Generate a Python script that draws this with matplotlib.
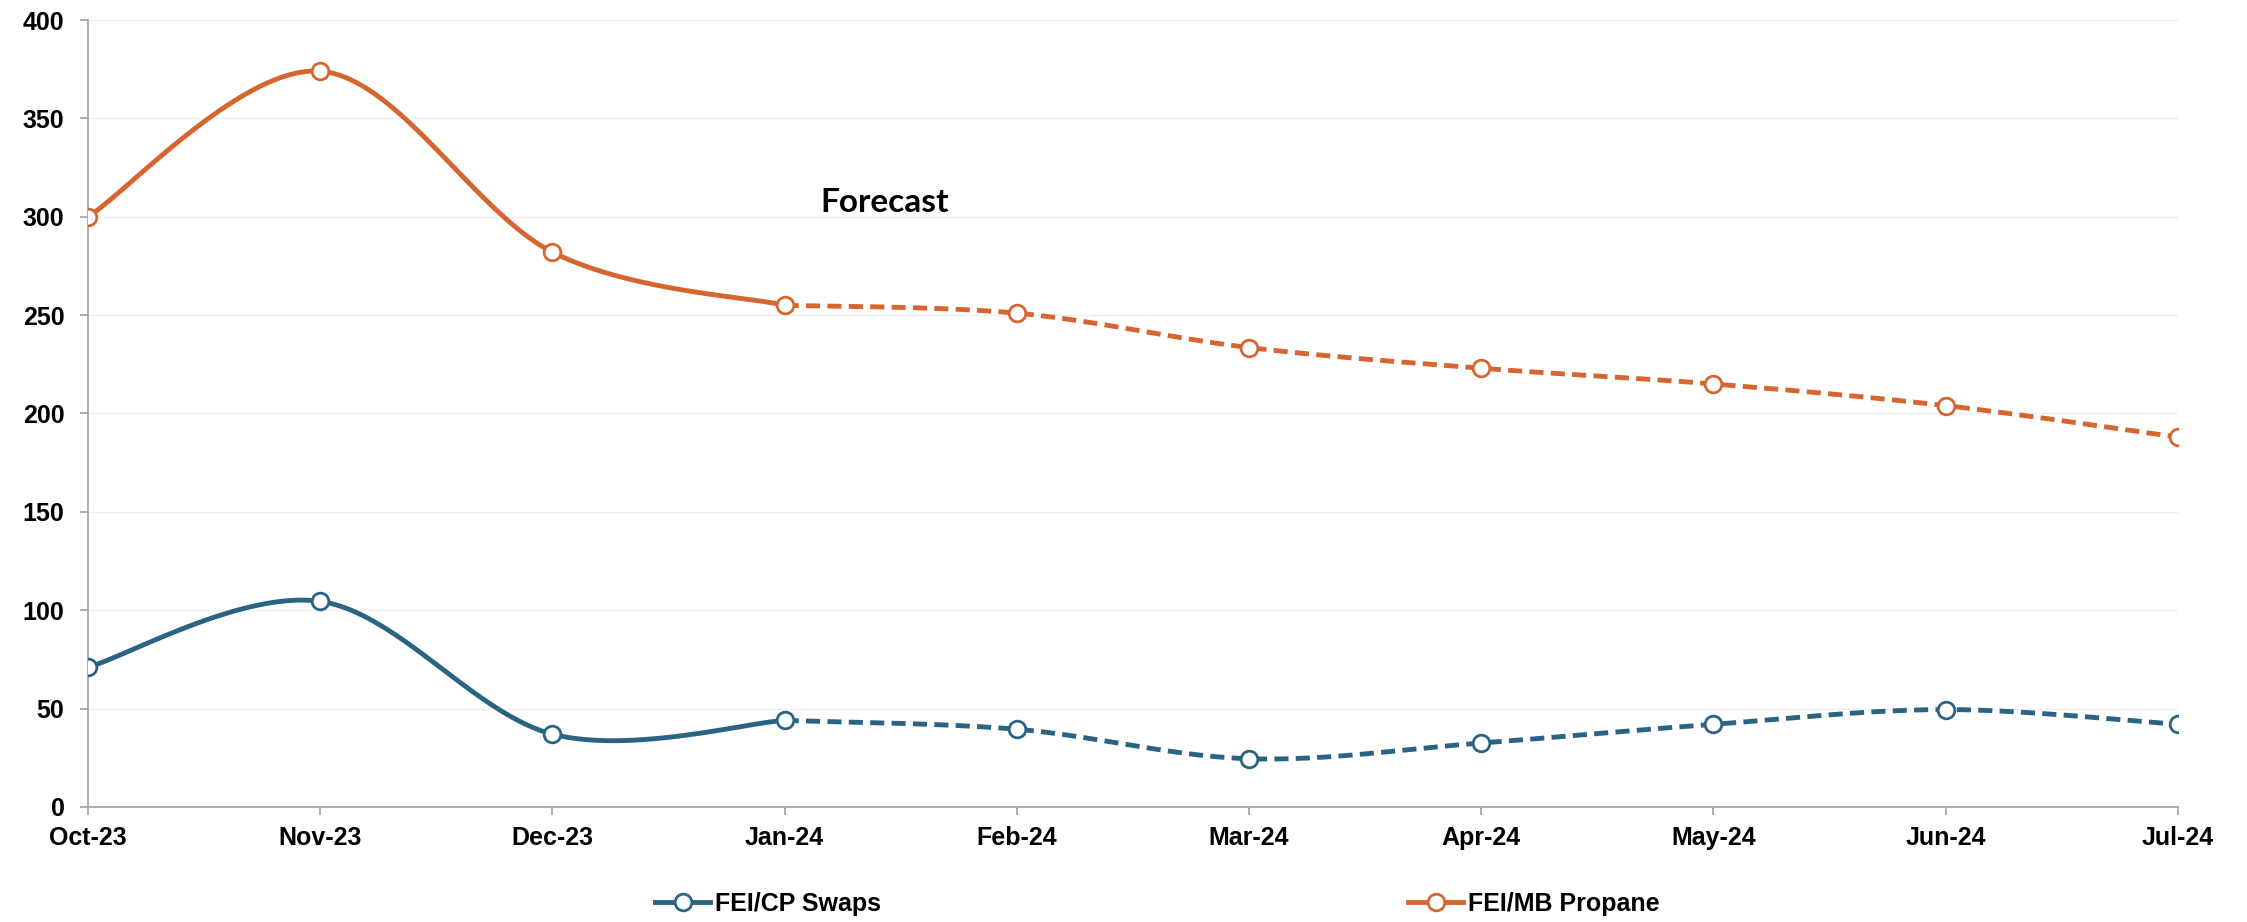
import numpy as np
import matplotlib
matplotlib.use("Agg")
import matplotlib.pyplot as plt
from matplotlib.lines import Line2D

months = ["Oct-23", "Nov-23", "Dec-23", "Jan-24", "Feb-24",
          "Mar-24", "Apr-24", "May-24", "Jun-24", "Jul-24"]
# Spreads: actuals through Jan-24, forecast from Jan-24 onward
cp_swaps = [71, 104.5, 37, 44, 39.5, 24.5, 32.5, 42, 49.5, 42]
mb_propane = [300, 374, 282, 255, 251, 233.5, 223, 215, 204, 188]
actual_end = 3  # index of Jan-24

BLUE = "#2A6482"
ORANGE = "#D6652F"
labels = ["FEI/CP Swaps", "FEI/MB Propane"]


def smooth(xs, ys, n=40):
    """Catmull-Rom style smoothing through every point (Bezier form)."""
    pts = np.column_stack([xs, ys]).astype(float)
    ext = np.vstack([pts[0], pts, pts[-1]])
    out = []
    t = np.linspace(0, 1, n)[:, None]
    for i in range(1, len(ext) - 2):
        p0, p3 = ext[i], ext[i + 1]
        c1 = p0 + (ext[i + 1] - ext[i - 1]) / 6.0
        c2 = p3 - (ext[i + 2] - ext[i]) / 6.0
        seg = ((1 - t) ** 3) * p0 + 3 * ((1 - t) ** 2) * t * c1 \
            + 3 * (1 - t) * t ** 2 * c2 + t ** 3 * p3
        out.append(seg if i == 1 else seg[1:])
    arr = np.vstack(out)
    return arr[:, 0], arr[:, 1]


plt.rcParams["font.family"] = ["Liberation Sans", "DejaVu Sans"]
fig = plt.figure(figsize=(22.47, 9.22), dpi=100)
ax = fig.add_axes([0.0392, 0.1248, 0.9300, 0.8535])

x = np.arange(len(months))
lw = 3.5
ms = 12
mew = 2.0
for series, color in [(cp_swaps, BLUE), (mb_propane, ORANGE)]:
    sx, sy = smooth(x[:actual_end + 1], series[:actual_end + 1])
    ax.plot(sx, sy, color=color, lw=lw, solid_capstyle="round", zorder=3)
    fx, fy = smooth(x[actual_end:], series[actual_end:])
    ax.plot(fx, fy, color=color, lw=lw, linestyle=(0, (2.9, 1.5)),
            dash_capstyle="butt", zorder=3)
    ax.plot(x, series, linestyle="none", marker="o", markersize=ms,
            markerfacecolor="white", markeredgecolor=color,
            markeredgewidth=mew, zorder=4)

ax.set_xlim(0, len(months) - 1)
ax.set_ylim(0, 400)
ax.set_xticks(x)
ax.set_xticklabels(months)
ax.set_yticks(np.arange(0, 401, 50))
ax.grid(axis="y", color="#EFEFEF", lw=1.0, zorder=0)
ax.set_axisbelow(True)

for side in ["top", "right"]:
    ax.spines[side].set_visible(False)
for side in ["left", "bottom"]:
    ax.spines[side].set_color("#A0A0A0")
    ax.spines[side].set_linewidth(1.2)

ax.tick_params(axis="both", colors="#A0A0A0", length=6, width=1.2,
               labelcolor="black", labelsize=18)
ax.tick_params(axis="x", pad=8)
ax.tick_params(axis="y", pad=11)
for lab in ax.get_xticklabels() + ax.get_yticklabels():
    lab.set_fontweight("bold")

ax.text(3.43, 307, "Forecast", ha="center", va="center",
        fontsize=24, fontweight="bold", family=["Lato", "DejaVu Sans"])

# legend entries placed under the axis
for label, color, xpos in [(labels[0], BLUE, 655 / 2247),
                           (labels[1], ORANGE, 1408 / 2247)]:
    h = Line2D([], [], color=color, lw=lw, marker="o", markersize=ms,
               markerfacecolor="white", markeredgecolor=color,
               markeredgewidth=mew)
    fig.legend([h], [label], loc="center left",
               bbox_to_anchor=(xpos, 1 - 904 / 922), frameon=False,
               borderpad=0, borderaxespad=0, handlelength=2.2,
               handletextpad=0.2,
               prop={"size": 18, "weight": "bold"})

fig.savefig("out.png", dpi=100, facecolor="white")
